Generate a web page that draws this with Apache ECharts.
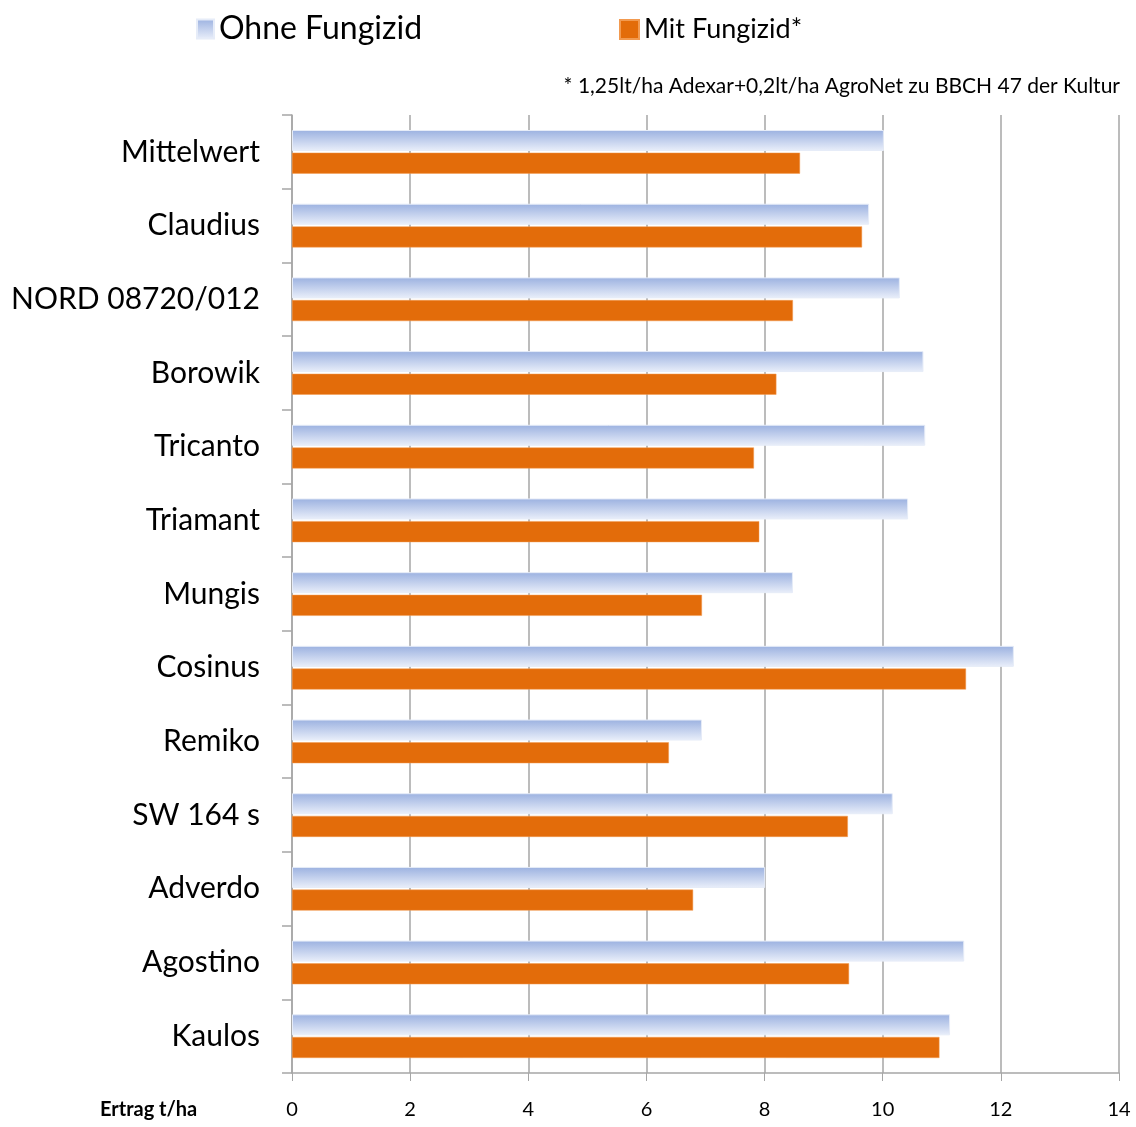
<!DOCTYPE html>
<html><head><meta charset="utf-8">
<script src="https://cdn.jsdelivr.net/npm/echarts@6/dist/echarts.min.js"></script>
<style>html,body{margin:0;padding:0;background:#fff}#c{width:1136px;height:1127px}</style>
</head><body><div id="c"></div>
<script>
const categories = ["Mittelwert","Claudius","NORD 08720/012","Borowik","Tricanto","Triamant","Mungis","Cosinus","Remiko","SW 164 s","Adverdo","Agostino","Kaulos"];
const ohneFungizid = [10.02,9.77,10.29,10.69,10.72,10.43,8.48,12.22,6.94,10.17,8.01,11.38,11.14];
const mitFungizid = [8.60,9.65,8.48,8.20,7.82,7.91,6.94,11.41,6.38,9.41,6.79,9.43,10.96];
const xTicks = [0,2,4,6,8,10,12,14];

const FONT = 'Lato, "Open Sans", sans-serif';
const blueGrad = new echarts.graphic.LinearGradient(0,0,0,1,[{offset:0,color:'#9bb1e0'},{offset:1,color:'#eaeffa'}]);
const chart = echarts.init(document.getElementById('c'));
chart.setOption({
  animation:false,
  textStyle:{fontFamily:FONT},
  legend:[
    {data:['Ohne Fungizid'],icon:'rect',left:191,top:8,itemWidth:17,itemHeight:19,itemGap:10,
     textStyle:{fontSize:32,color:'#000',fontFamily:FONT}},
    {data:['Mit Fungizid*'],icon:'rect',left:614,top:11,itemWidth:19,itemHeight:19,
     textStyle:{fontSize:27,color:'#000',fontFamily:FONT}}
  ],
  graphic:[
    {type:'text',right:16,top:76,style:{text:'* 1,25lt/ha Adexar+0,2lt/ha AgroNet zu BBCH 47 der Kultur',fontSize:21,fill:'#000',fontFamily:FONT,textAlign:'right'}},
    {type:'text',left:100,top:1100,style:{text:'Ertrag t/ha',fontSize:20,fontWeight:'bold',fill:'#000',fontFamily:FONT}}
  ],
  grid:{left:292,right:17,top:115,bottom:54,containLabel:false},
  xAxis:{type:'value',min:xTicks[0],max:xTicks[xTicks.length-1],interval:2,
    axisLine:{show:true,lineStyle:{color:'#a6a6a6',width:1.5}},
    axisTick:{show:true,length:8,lineStyle:{color:'#a6a6a6'}},
    axisLabel:{fontSize:20,color:'#000',margin:27,fontFamily:FONT,
      formatter:v=>xTicks.includes(v)?String(v):''},
    splitLine:{show:true,lineStyle:{color:'#a6a6a6',width:1.5}}
  },
  yAxis:{type:'category',data:categories,inverse:true,
    axisLine:{show:true,lineStyle:{color:'#a6a6a6',width:1.5}},
    axisTick:{show:true,length:10,lineStyle:{color:'#a6a6a6',width:1.5}},
    axisLabel:{fontSize:30,color:'#000',margin:32,fontFamily:FONT}
  },
  series:[
    {name:'Ohne Fungizid',type:'bar',data:ohneFungizid,barWidth:21,barGap:'8%',
     itemStyle:{color:blueGrad,borderColor:'#e6ecf8',borderWidth:1}},
    {name:'Mit Fungizid*',type:'bar',data:mitFungizid,barWidth:21,barGap:'8%',
     itemStyle:{color:'#e36c0a',borderColor:'#f29a50',borderWidth:0.5}}
  ]
});
</script></body></html>
